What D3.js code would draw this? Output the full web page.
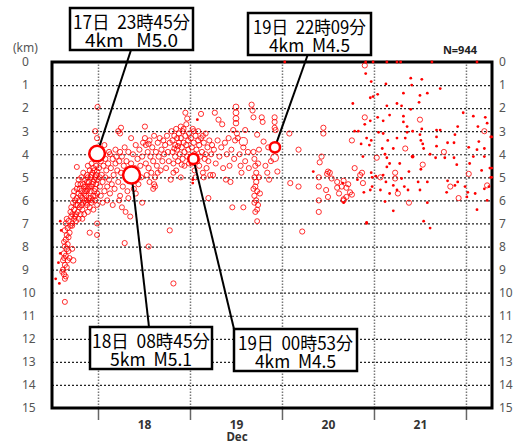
<!DOCTYPE html>
<html><head><meta charset="utf-8">
<script src="https://cdn.jsdelivr.net/npm/d3@7"></script>
<style>body{margin:0;background:#fff}svg{display:block}</style>
</head><body>
<svg id="chart" width="526" height="445"></svg>
<script>
// ---------- DATA ----------
// each quake: [day of December (decimal), depth km, magnitude]; magnitude < 1 drawn as a small dot
const quakes17 = [
[17.54,9.4,0.5],[17.59,6.9,0.5],[17.6,7.3,0.5],[17.57,8.7,0.5],[17.59,8.3,0.5],[17.58,9.6,0.5],
[17.62,9.0,1.2],[17.63,9.2,1.4],[17.64,9.4,1.2],[17.61,9.1,1.0],[17.66,8.9,1.3],[17.65,9.3,1.1],[17.64,10.4,1.2],
[17.62,8.6,1.3],[17.63,8.3,1.5],[17.64,8.0,1.4],[17.65,8.4,1.2],[17.66,8.1,1.6],[17.67,7.9,1.3],[17.68,8.2,1.1],
[17.65,7.7,1.4],[17.66,7.5,1.2],[17.64,7.3,1.5],[17.67,7.2,1.3],[17.68,7.6,1.2],[17.69,7.4,1.4],[17.65,7.0,1.3],
[17.66,6.8,1.2],[17.68,6.9,1.5],[17.7,7.1,1.3],[17.71,6.7,1.4],[17.72,8.1,1.2],[17.73,8.6,1.6],[17.64,8.8,1.3],
[17.63,7.8,1.1],[17.7,6.5,1.2],[17.69,8.5,1.2],[17.72,7.0,1.2],[17.63,8.5,1.0],[17.67,8.6,1.2],
[17.71,6.3,1.3],[17.72,6.6,1.2],[17.73,6.1,1.4],[17.74,6.8,1.2],[17.74,6.4,1.5],[17.75,6.0,1.3],[17.76,6.6,1.2],[17.73,5.8,1.3],[17.72,7.1,1.1],
[17.77,5.5,1.4],[17.77,5.9,1.3],[17.78,6.2,1.5],[17.78,6.5,1.2],[17.79,5.7,1.3],[17.79,6.8,1.1],[17.8,6.0,1.6],[17.8,6.3,1.3],[17.81,5.3,1.2],[17.76,6.9,1.3],[17.77,4.55,1.2],
[17.82,5.0,1.3],[17.82,5.6,1.4],[17.83,5.9,1.3],[17.83,6.4,1.2],[17.84,5.3,1.5],[17.84,6.1,1.3],[17.85,5.7,1.4],[17.85,6.6,1.2],[17.86,5.1,1.3],[17.86,6.0,1.6],[17.84,4.8,1.2],[17.83,6.8,1.1],
[17.87,5.4,1.3],[17.87,5.8,1.5],[17.88,4.9,1.2],[17.88,6.2,1.3],[17.89,5.5,1.4],[17.89,6.5,1.2],[17.9,5.2,1.3],[17.9,5.9,1.4],[17.91,4.7,1.2],[17.91,6.3,1.3],[17.88,5.6,1.2],[17.9,6.0,1.1],
[17.92,5.0,1.4],[17.92,5.6,1.3],[17.93,6.1,1.2],[17.94,4.8,1.3],[17.94,5.3,1.5],[17.95,5.8,1.3],[17.95,6.4,1.2],[17.96,4.7,1.3],[17.96,5.1,1.4],[17.97,5.5,1.3],[17.97,6.0,1.2],
[17.98,4.9,1.3],[17.98,5.3,1.2],[17.99,5.7,1.3],[17.93,5.4,1.2],[17.95,4.6,1.3],[17.99,6.2,1.1],[17.98,4.5,1.3],[17.99,4.75,1.4],[17.97,5.0,1.2],
[17.79,5.1,1.3],[17.81,5.8,1.2],[17.81,6.6,1.3],[17.85,5.4,1.2],[17.87,6.1,1.3],[17.89,5.0,1.2],[17.92,5.9,1.4],[17.94,6.0,1.2],[17.96,5.6,1.3],[17.76,6.2,1.2],[17.75,6.7,1.3],[17.74,5.6,1.2],
[17.78,5.3,1.3],[17.8,5.5,1.2],[17.82,6.2,1.3],[17.86,5.6,1.4],[17.88,5.2,1.2],[17.91,5.4,1.3],[17.93,4.9,1.2],[17.95,5.2,1.3],[17.97,5.8,1.2],[17.99,5.1,1.3],
[17.91,7.4,1.3],[17.99,7.5,1.2],[17.99,7.0,1.2],[17.97,3.0,1.3],[17.99,3.3,1.3],[17.995,1.95,1.3],[17.93,4.4,1.2],[17.89,4.5,1.3]
];
const quakes18 = [
[18.01,4.6,1.3],[18.02,5.0,1.2],[18.02,5.4,1.4],[18.03,4.3,1.3],[18.03,5.8,1.2],[18.04,4.9,1.5],[18.05,5.2,1.3],[18.05,6.1,1.2],[18.06,4.5,1.3],[18.07,5.6,1.4],
[18.08,4.2,1.3],[18.08,5.0,1.2],[18.09,4.7,1.3],[18.1,5.4,1.2],[18.1,6.0,1.3],[18.11,4.4,1.4],[18.12,5.1,1.3],[18.13,4.0,1.2],[18.13,5.7,1.3],[18.14,4.6,1.3],
[18.15,5.3,1.2],[18.16,4.2,1.4],[18.16,6.2,1.2],[18.17,4.9,1.3],[18.18,5.5,1.3],[18.19,4.4,1.2],[18.2,4.1,1.3],[18.04,3.8,1.2],[18.12,3.9,1.3],[18.19,3.8,1.3],[18.07,3.6,1.2],
[18.22,3.0,1.3],[18.25,2.85,1.3],[18.36,3.3,1.2],[18.51,2.8,1.3],[18.24,3.1,1.2],[18.55,3.55,1.3],
[18.21,4.7,1.3],[18.22,5.2,1.2],[18.23,4.3,1.4],[18.24,3.9,1.3],[18.24,5.8,1.2],[18.25,4.8,1.3],[18.26,4.1,1.2],[18.27,5.4,1.3],[18.28,4.5,1.3],[18.29,3.7,1.2],
[18.3,5.0,1.4],[18.31,4.3,1.3],[18.32,5.6,1.2],[18.33,3.9,1.3],[18.34,4.7,1.2],[18.36,4.4,1.3],[18.37,5.1,1.3],[18.38,4.0,1.2],[18.39,5.5,1.3],[18.4,4.6,1.2],
[18.41,3.6,1.3],[18.42,4.9,1.3],[18.43,4.2,1.4],[18.44,5.3,1.2],[18.45,3.8,1.3],[18.46,4.5,1.3],[18.47,5.0,1.2],[18.48,4.1,1.3],[18.49,3.5,1.3],
[18.23,6.0,1.2],[18.26,6.3,1.2],[18.3,6.5,1.1],[18.35,6.7,1.2],[18.29,7.85,1.3],[18.48,6.1,1.2],[18.33,5.9,1.2],[18.41,5.7,1.3],
[18.51,3.3,1.3],[18.52,3.6,1.2],[18.52,4.4,1.3],[18.53,4.9,1.3],[18.54,3.9,1.2],[18.55,4.6,1.4],[18.56,3.4,1.3],[18.56,5.2,1.2],[18.57,4.1,1.3],[18.58,4.8,1.2],
[18.59,3.7,1.3],[18.6,4.3,1.3],[18.61,3.2,1.2],[18.62,5.0,1.3],[18.63,3.9,1.3],[18.64,4.5,1.2],[18.65,3.5,1.3],[18.66,4.1,1.4],[18.67,3.3,1.3],[18.68,4.7,1.2],
[18.69,3.8,1.3],[18.7,4.3,1.3],[18.71,3.4,1.2],[18.72,4.0,1.3],[18.73,3.6,1.3],[18.74,4.6,1.2],[18.75,3.2,1.3],[18.76,3.9,1.3],[18.77,4.3,1.2],[18.78,3.5,1.3],
[18.79,5.1,1.3],[18.6,5.5,1.2],[18.55,8.0,1.3],[18.78,7.3,1.3],[18.82,9.6,1.3],[18.61,5.3,1.3],[18.82,4.8,1.2],[18.62,5.4,1.3],[18.65,4.8,1.2],
[18.8,3.0,1.3],[18.81,3.4,1.4],[18.81,3.9,1.3],[18.82,4.4,1.2],[18.83,3.2,1.3],[18.84,3.6,1.3],[18.84,4.1,1.5],[18.85,2.9,1.3],[18.86,3.3,1.2],[18.86,3.8,1.3],
[18.87,4.3,1.3],[18.88,3.1,1.4],[18.88,3.5,1.3],[18.89,4.0,1.2],[18.9,2.8,1.3],[18.9,3.3,1.3],[18.91,3.7,1.4],[18.92,4.2,1.3],[18.92,3.0,1.2],[18.93,3.5,1.3],
[18.94,3.9,1.3],[18.94,4.5,1.2],[18.95,3.2,1.3],[18.96,3.6,1.4],[18.96,2.7,1.3],[18.97,4.1,1.3],[18.98,3.4,1.2],[18.98,3.8,1.3],[18.99,3.1,1.3],[18.99,4.4,1.2],
[18.95,2.2,1.3],[18.85,4.7,1.2],[18.9,5.0,1.2],[18.97,2.45,1.3],[18.93,2.9,1.2],[18.87,3.65,1.3],[18.83,3.75,1.2],[18.91,4.45,1.3]
];
const quakes19 = [
[19.08,2.5,0.5],[19.03,5.1,0.5],[19.03,5.25,0.5],
[19.01,3.3,1.3],[19.02,3.7,1.3],[19.02,4.4,1.2],[19.03,2.9,1.3],[19.04,3.5,1.4],[19.05,4.0,1.3],[19.05,4.7,1.2],[19.06,3.2,1.3],[19.07,3.8,1.3],[19.08,4.3,1.2],
[19.09,3.0,1.3],[19.1,3.6,1.4],[19.1,4.5,1.3],[19.11,4.1,1.3],[19.12,3.3,1.2],[19.13,3.9,1.3],[19.14,4.8,1.2],[19.15,3.5,1.3],[19.16,4.2,1.3],[19.17,3.1,1.2],
[19.18,4.6,1.3],[19.19,3.7,1.3],[19.2,4.3,1.2],[19.21,3.4,1.3],[19.22,4.9,1.3],[19.23,4.0,1.2],[19.24,3.6,1.3],[19.12,2.25,1.3],[19.06,5.0,1.2],[19.15,5.0,1.3],[19.2,5.9,1.3],
[19.04,3.0,1.2],[19.09,3.4,1.3],[19.14,3.2,1.2],[19.17,4.0,1.3],[19.25,4.9,1.3],[19.07,4.1,1.2],
[19.26,3.8,1.3],[19.27,2.2,1.3],[19.28,4.4,1.2],[19.3,3.4,1.3],[19.31,2.5,1.3],[19.32,4.1,1.2],[19.34,3.7,1.3],[19.35,2.7,1.3],[19.36,4.6,1.2],[19.38,3.5,1.3],
[19.39,5.1,1.2],[19.4,4.0,1.3],[19.42,3.3,1.3],[19.43,4.5,1.2],[19.44,5.2,1.3],[19.45,3.8,1.2],[19.46,6.3,1.2],[19.47,2.95,1.3],[19.48,4.2,1.3],
[19.5,1.95,1.8],[19.5,2.2,1.8],[19.5,2.45,1.8],[19.5,2.65,1.6],[19.49,3.4,1.3],
[19.51,3.1,1.3],[19.52,3.3,1.3],[19.58,3.45,3.4],[19.54,4.0,1.2],[19.55,4.5,1.3],[19.56,4.8,1.2],[19.58,3.7,1.3],[19.6,4.3,1.2],[19.6,2.95,1.3],[19.63,3.9,1.3],
[19.64,4.6,1.2],[19.58,6.3,1.2],[19.67,1.85,1.3],[19.68,2.1,1.3],[19.69,2.4,1.2],
[19.69,3.9,1.3],[19.7,4.2,1.2],[19.71,4.5,1.3],[19.72,4.8,1.3],[19.7,5.0,1.2],[19.72,5.2,1.4],[19.71,5.4,1.3],[19.73,5.6,1.2],[19.7,5.8,1.3],[19.72,6.0,1.3],
[19.74,6.2,1.2],[19.71,6.5,1.2],[19.73,6.9,1.1],[19.74,4.4,1.3],[19.75,5.0,1.2],[19.76,5.7,1.3],[19.75,3.8,1.2],[19.69,5.5,1.2],[19.73,6.4,1.1],[19.7,6.1,1.2],
[19.73,3.15,1.3],[19.8,3.45,1.3],[19.78,2.4,1.3],[19.79,2.6,1.2],[19.82,4.5,1.2],[19.84,4.8,1.3],[19.85,3.7,1.2],[19.86,5.1,1.3],[19.88,4.3,1.2],
[19.92,2.4,1.3],[19.92,2.6,1.3],[19.92,2.85,1.2],[19.93,2.95,1.3],[19.92,4.15,3.3],[19.95,4.75,1.3]
];
const quakes20 = [
[20.03,0,0.5],[20.08,3.1,1.3],[20.18,3.8,1.3],[20.45,2.85,1.3],[20.45,3.1,1.3],[20.76,3.4,1.3],[20.43,4.1,1.3],[20.41,4.35,1.3],[20.79,4.6,1.3],
[20.5,4.75,1.3],[20.52,4.8,1.3],[20.49,4.85,1.3],[20.4,5.0,1.3],[20.54,5.05,1.3],[20.09,5.25,1.3],[20.18,5.4,1.3],[20.4,5.4,1.3],[20.6,5.2,1.3],
[20.65,5.4,1.3],[20.67,5.15,1.3],[20.72,5.3,1.3],[20.48,5.55,1.3],[20.6,5.45,1.3],[20.74,5.65,1.3],[20.7,5.45,1.3],[20.76,5.75,1.3],[20.62,5.7,1.3],
[20.67,5.95,1.3],[20.7,5.85,1.3],[20.5,5.85,1.3],[20.4,6.0,1.3],[20.67,6.0,1.3],[20.4,6.5,1.3],[20.22,7.35,1.3],[20.34,4.75,0.5],[20.77,1.8,0.5],
[20.92,6.95,0.5],[20.85,4.9,1.3],[20.9,0.15,1.3],[20.91,0,0.5],[20.99,0,0.5],[20.91,0.5,0.5],[20.97,0.85,0.5],[20.96,1.55,0.5],[20.99,1.5,0.5],
[20.9,2.4,1.3],[20.9,2.7,0.5],[20.79,3.0,0.5],[20.83,3.0,0.5],[20.96,2.55,0.5],[20.92,3.3,0.5],[20.97,3.4,0.5],[20.86,3.55,0.5],[20.95,3.6,0.5],
[20.88,4.1,0.5],[20.87,4.8,1.3],[20.97,4.8,0.5],[20.98,5.0,0.5],[20.88,5.25,1.3],[20.82,5.1,0.5],[20.98,5.4,0.5],[20.96,5.55,0.5],[20.89,5.65,0.5],
[20.66,5.25,0.5],[20.67,6.1,0.5],[20.92,7.0,0.5]
];
const quakes21 = [
[21.14,0,0.5],[21.25,0,0.5],[21.29,0,0.5],[21.63,0,0.5],[22.12,0,0.5],
[21.4,0.7,0.5],[21.52,0.75,0.5],[21.13,0.95,0.5],[21.41,1.0,0.5],[21.72,1.15,0.5],[21.04,1.4,0.5],[21.32,1.35,0.5],[21.5,1.45,0.5],[21.58,1.35,0.5],
[21.25,1.8,0.5],[21.49,1.75,0.5],[21.3,1.9,0.5],[21.14,1.9,0.5],[21.4,2.05,0.5],[21.97,2.2,0.5],[22.08,2.35,0.5],[22.21,2.4,0.5],[22.23,2.65,0.5],
[21.17,2.3,0.5],[21.04,2.4,0.5],[21.1,2.55,0.5],[21.32,2.35,0.5],[21.32,2.6,0.5],[21.5,2.5,1.3],[21.36,2.8,0.5],
[21.05,3.05,0.5],[21.1,3.1,0.5],[21.36,3.05,0.5],[21.42,3.0,0.5],[21.52,2.9,0.5],[21.68,2.95,0.5],[21.72,2.95,0.5],[21.91,2.8,0.5],[22.13,2.8,0.5],
[22.2,3.0,1.3],[21.5,3.15,0.5],[21.51,3.4,0.5],[21.68,3.25,0.5],[21.88,3.15,0.5],[21.25,3.3,0.5],[21.34,3.3,0.5],[21.15,3.4,0.5],[21.53,3.55,0.5],
[21.68,3.65,0.5],[21.8,3.5,0.5],[21.87,3.5,0.5],[22.03,3.7,0.5],[22.14,3.45,0.5],[22.2,3.75,0.5],[22.27,3.25,0.5],[21.09,3.75,0.5],[21.21,3.75,0.5],
[21.34,3.75,1.3],[21.54,3.75,0.5],[22.12,3.8,0.5],[21.61,4.0,0.5],[21.76,3.9,1.3],[21.12,4.0,0.5],[21.14,4.15,0.5],[21.03,4.15,1.3],[21.42,4.1,0.8],
[21.67,4.15,0.5],[21.77,4.15,0.5],[21.87,4.15,0.5],[22.08,4.1,0.5],[22.2,4.1,0.5],[21.28,4.4,0.5],[21.17,4.4,0.5],[21.53,4.45,1.3],[21.14,4.55,0.5],
[21.51,4.65,0.5],[21.9,4.45,0.5],[22.04,4.4,0.5],[22.17,4.7,0.5],[22.26,4.6,0.5],[21.1,4.9,0.5],[21.23,4.8,1.3],[21.38,4.75,0.5],[21.02,4.95,0.5],
[22.03,4.85,1.3],[22.27,5.0,0.5],[21.07,5.0,1.3],[21.23,5.05,1.3],[21.3,5.05,0.5],[21.58,5.2,0.5],[21.48,5.2,0.5],[21.13,5.2,0.5],[21.21,5.35,0.5],
[21.33,5.4,0.5],[21.8,5.15,0.5],[21.83,5.4,1.3],[21.88,5.35,0.5],[21.91,5.2,0.5],[21.92,5.9,1.3],[21.99,5.4,0.5],[22.02,5.65,0.5],[22.1,5.7,0.5],
[22.23,5.35,1.3],[22.25,5.4,0.5],[22.2,5.5,0.5],[22.23,6.0,0.5],[21.07,5.55,0.5],[21.17,5.7,0.5],[21.25,5.55,0.5],[21.26,5.7,1.3],[21.37,5.55,0.5],
[21.5,5.55,0.5],[21.79,5.65,0.5],[22.01,5.85,0.5],[21.38,6.1,1.3],[21.58,6.1,0.5],[21.12,6.05,0.5],[22.12,6.4,0.5],[21.21,6.45,0.5],[21.54,6.9,0.5],
[21.61,7.2,0.5],[22.28,3.25,0.5],[22.28,4.6,0.5],[22.28,5.0,0.5]
];

// labelled main shocks
const mainDay   = [17.99, 18.365, 19.037, 19.923];
const mainDepth = [3.97, 4.9, 4.2, 3.7];
const mainMag   = [5.0, 5.1, 4.5, 4.5];
const mainDate  = ["17日  23時45分", "18日  08時45分", "19日  00時53分", "19日  22時09分"];
const mainInfo  = ["4km   M5.0", "5km  M5.1", "4km  M4.5", "4km  M4.5"];

const depthTicks = [0,1,2,3,4,5,6,7,8,9,10,11,12,13,14,15];
const dayBoundaries = [18,19,20,21,22];
const dayLabelAt = [18.5,19.5,20.5,21.5];
const dayLabels = ["18","19","20","21"];
const monthLabel = "Dec";
const depthUnit = "(km)";
const countLabel = "N=944";

// ---------- LAYOUT ----------
const L = 52, R = 492, T = 62, B = 408;
const boxes = [ // callout boxes in pixels: top-left, width, where the leader leaves the box, text widths
  {x:70,  y:8,   w:123, ax:131, ay:50,  t1:117, t2:93},
  {x:90,  y:327, w:122, ax:149, ay:327, t1:118, t2:82},
  {x:234, y:329, w:123, ax:234, ay:329, t1:115, t2:81},
  {x:248, y:13,  w:123, ax:308, ay:54,  t1:113, t2:81}
];

const svg = d3.select("#chart");
const x = d3.scaleLinear().domain([17.5, 22.283]).range([L, R]);
const y = d3.scaleLinear().domain([0, 15]).range([T, B]);
const r = d3.scaleLinear().domain([1, 3, 4.5, 5.0, 5.1]).range([2.4, 3.7, 5.1, 7.8, 8.5]).clamp(true);

const lblFont = "'Noto Sans', 'DejaVu Sans', sans-serif";

// horizontal dashed grid
svg.append("g").attr("transform", `translate(${L},0)`)
  .call(d3.axisLeft(y).tickValues(depthTicks.slice(1, -1)).tickSize(-(R - L)).tickFormat(""))
  .call(g => g.select(".domain").remove())
  .call(g => g.selectAll("line").attr("stroke", "#222").attr("stroke-width", 1.2).attr("stroke-dasharray", "2,2"));

// vertical day lines
svg.append("g").attr("transform", `translate(0,${B})`)
  .call(d3.axisBottom(x).tickValues(dayBoundaries).tickSize(-(B - T)).tickFormat(""))
  .call(g => g.select(".domain").remove())
  .call(g => g.selectAll("line").attr("stroke", "#777").attr("stroke-width", 1.5).attr("stroke-dasharray", "1.5,1.5"));

// ticks below the plot
svg.append("g").attr("transform", `translate(0,${B})`)
  .call(d3.axisBottom(x).tickValues(dayBoundaries).tickSize(12).tickFormat(""))
  .call(g => g.select(".domain").remove())
  .call(g => g.selectAll("line").attr("stroke", "#666").attr("stroke-width", 1.5));

// day labels
svg.append("g").attr("transform", `translate(0,${B})`)
  .call(d3.axisBottom(x).tickValues(dayLabelAt).tickSize(0).tickPadding(12).tickFormat((d, i) => dayLabels[i]))
  .call(g => g.select(".domain").remove())
  .call(g => g.selectAll("text").attr("font-family", lblFont).attr("font-size", 12).attr("font-weight", "bold").attr("fill", "#333"));

svg.append("text").attr("x", x(dayLabelAt[1]) + 1).attr("y", 441)
  .attr("text-anchor", "middle").attr("font-family", lblFont).attr("font-size", 11.5)
  .attr("font-weight", "bold").attr("fill", "#333").text(monthLabel);

// left depth labels
svg.append("g").attr("transform", `translate(${L},0)`)
  .call(d3.axisLeft(y).tickValues(depthTicks).tickSize(0).tickFormat(d3.format("d")))
  .call(g => g.select(".domain").remove())
  .call(g => g.selectAll("text").attr("x", 22 - L).attr("text-anchor", "start")
     .attr("font-family", lblFont).attr("font-size", 12).attr("fill", "#555"));

// right depth labels
svg.append("g").attr("transform", `translate(${R},0)`)
  .call(d3.axisRight(y).tickValues(depthTicks).tickSize(0).tickPadding(7).tickFormat(d3.format("d")))
  .call(g => g.select(".domain").remove())
  .call(g => g.selectAll("text").attr("font-family", lblFont).attr("font-size", 12).attr("fill", "#555"));

svg.append("text").attr("x", 13).attr("y", 52).attr("font-family", lblFont)
  .attr("font-size", 12).attr("fill", "#555").text(depthUnit);

svg.append("text").attr("x", 477).attr("y", 54).attr("text-anchor", "end").attr("font-family", lblFont)
  .attr("font-size", 11).attr("font-weight", "bold").attr("fill", "#222").text(countLabel);

// plot frame
svg.append("rect").attr("x", L).attr("y", T).attr("width", R - L).attr("height", B - T)
  .attr("fill", "none").attr("stroke", "#000").attr("stroke-width", 3);

// quakes
const all = [].concat(quakes17, quakes18, quakes19, quakes20, quakes21);
const pts = svg.append("g");
pts.selectAll("circle.ring").data(all.filter(d => d[2] >= 1)).join("circle")
  .attr("class", "ring")
  .attr("cx", d => x(d[0])).attr("cy", d => y(d[1])).attr("r", d => r(d[2]))
  .attr("fill", "none").attr("stroke", "#ff0000").attr("stroke-width", 0.9).attr("stroke-opacity", 0.9);
pts.selectAll("circle.dot").data(all.filter(d => d[2] < 1)).join("circle")
  .attr("class", "dot")
  .attr("cx", d => x(d[0])).attr("cy", d => y(d[1])).attr("r", d => d[2] > 0.7 ? 1.9 : 1.4)
  .attr("fill", "#ff0000");

// main shocks: leader lines, circles, callout boxes
const mains = mainDay.map((d, i) => ({day: d, depth: mainDepth[i], mag: mainMag[i], date: mainDate[i], info: mainInfo[i], box: boxes[i]}));

svg.append("g").selectAll("line").data(mains).join("line")
  .attr("x1", d => d.box.ax).attr("y1", d => d.box.ay)
  .attr("x2", d => x(d.day)).attr("y2", d => y(d.depth))
  .attr("stroke", "#000").attr("stroke-width", 2);

svg.append("g").selectAll("circle").data(mains).join("circle")
  .attr("cx", d => x(d.day)).attr("cy", d => y(d.depth)).attr("r", d => r(d.mag))
  .attr("fill", "#fff").attr("stroke", "#ff0000").attr("stroke-width", 2.5);

const bx = svg.append("g").selectAll("g").data(mains).join("g");
bx.append("rect").attr("x", d => d.box.x).attr("y", d => d.box.y).attr("width", d => d.box.w).attr("height", 42)
  .attr("fill", "#fff").attr("stroke", "#000").attr("stroke-width", 2.5);
const jp = "'Noto Sans CJK JP', 'Noto Sans CJK SC', sans-serif";
bx.append("text").attr("x", d => d.box.x + d.box.w / 2).attr("y", d => d.box.y + 20.5)
  .attr("text-anchor", "middle").attr("font-family", jp).attr("font-size", 18).attr("fill", "#000")
  .style("white-space", "pre")
  .attr("textLength", d => d.box.t1).attr("lengthAdjust", "spacingAndGlyphs").text(d => d.date);
bx.append("text").attr("x", d => d.box.x + d.box.w / 2).attr("y", d => d.box.y + 39)
  .attr("text-anchor", "middle").attr("font-family", jp).attr("font-size", 18).attr("fill", "#000")
  .style("white-space", "pre")
  .attr("textLength", d => d.box.t2).attr("lengthAdjust", "spacingAndGlyphs").text(d => d.info);
</script>
</body></html>
